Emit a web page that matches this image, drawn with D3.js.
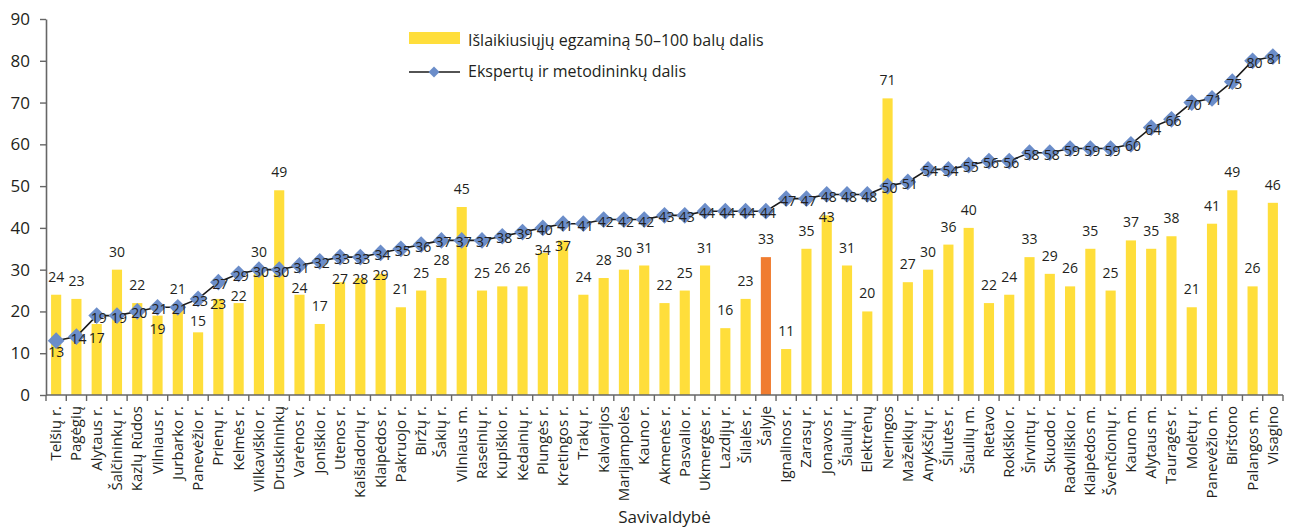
<!DOCTYPE html>
<html lang="lt">
<head>
<meta charset="utf-8">
<script src="https://cdn.jsdelivr.net/npm/d3@7/dist/d3.min.js"></script>
<style>
  html, body { margin: 0; padding: 0; background: #fff; }
  svg { display: block; font-family: "Open Sans", "Noto Sans", sans-serif; }
</style>
</head>
<body>
<svg id="chart" width="1296" height="531"></svg>
<script>
// Savivaldybės, surikiuotos pagal ekspertų ir metodininkų dalį
const categories = [
  "Telšių r.", "Pagėgių", "Alytaus r.", "Šalčininkų r.", "Kazlų Rūdos", "Vilniaus r.",
  "Jurbarko r.", "Panevėžio r.", "Prienų r.", "Kelmės r.", "Vilkaviškio r.", "Druskininkų",
  "Varėnos r.", "Joniškio r.", "Utenos r.", "Kaišiadorių r.", "Klaipėdos r.", "Pakruojo r.",
  "Biržų r.", "Šakių r.", "Vilniaus m.", "Raseinių r.", "Kupiškio r.", "Kėdainių r.",
  "Plungės r.", "Kretingos r.", "Trakų r.", "Kalvarijos", "Marijampolės", "Kauno r.",
  "Akmenės r.", "Pasvalio r.", "Ukmergės r.", "Lazdijų r.", "Šilalės r.", "Šalyje",
  "Ignalinos r.", "Zarasų r.", "Jonavos r.", "Šiaulių r.", "Elektrėnų", "Neringos",
  "Mažeikių r.", "Anykščių r.", "Šilutės r.", "Šiaulių m.", "Rietavo", "Rokiškio r.",
  "Širvintų r.", "Skuodo r.", "Radviliškio r.", "Klaipėdos m.", "Švenčionių r.", "Kauno m.",
  "Alytaus m.", "Tauragės r.", "Molėtų r.", "Panevėžio m.", "Birštono", "Palangos m.",
  "Visagino"
];

// Išlaikiusiųjų egzaminą 50–100 balų dalis, %
const passShare = [
  24, 23, 17, 30, 22, 19, 21, 15, 23, 22, 30, 49,
  24, 17, 27, 28, 29, 21, 25, 28, 45, 25, 26, 26,
  34, 37, 24, 28, 30, 31, 22, 25, 31, 16, 23, 33,
  11, 35, 43, 31, 20, 71, 27, 30, 36, 40, 22, 24,
  33, 29, 26, 35, 25, 37, 35, 38, 21, 41, 49, 26,
  46
];

// Ekspertų ir metodininkų dalis, %
const expertShare = [
  13, 14, 19, 19, 20, 21, 21, 23, 27, 29, 30, 30,
  31, 32, 33, 33, 34, 35, 36, 37, 37, 37, 38, 39,
  40, 41, 41, 42, 42, 42, 43, 43, 44, 44, 44, 44,
  47, 47, 48, 48, 48, 50, 51, 54, 54, 55, 56, 56,
  58, 58, 59, 59, 59, 60, 64, 66, 70, 71, 75, 80,
  81
];

const yTicks = [0, 10, 20, 30, 40, 50, 60, 70, 80, 90];
const nationalLabel = "Šalyje";
const legendLabels = ["Išlaikiusiųjų egzaminą 50–100 balų dalis", "Ekspertų ir metodininkų dalis"];
const xTitle = "Savivaldybė";

const COLORS = {
  bar: "#FFDE3B",
  national: "#F07C30",
  marker: "#6B8DC9",
  line: "#1a1a1a",
  axis: "#666666",
  text: "#231F20"
};

const svg = d3.select("#chart");
const plotLeft = 46, plotRight = 1283, plotTop = 19, plotBottom = 395;

const x = d3.scaleBand()
  .domain(categories)
  .range([plotLeft, plotRight])
  .paddingInner(0.5)
  .paddingOuter(0.25);

const y = d3.scaleLinear().domain([0, 90]).range([plotBottom, plotTop]);

const rows = categories.map((c, i) => ({ c, bar: passShare[i], exp: expertShare[i] }));
const cx = d => x(d.c) + x.bandwidth() / 2;

// Stulpeliai
svg.append("g").selectAll("rect")
  .data(rows)
  .join("rect")
  .attr("x", d => x(d.c))
  .attr("width", x.bandwidth())
  .attr("y", d => y(d.bar))
  .attr("height", d => y(0) - y(d.bar))
  .attr("fill", d => d.c === nationalLabel ? COLORS.national : COLORS.bar);

// Y ašis
const yAxis = svg.append("g")
  .attr("transform", `translate(${plotLeft},0)`)
  .call(d3.axisLeft(y).tickValues(yTicks).tickSize(6).tickPadding(10).tickSizeOuter(0));
yAxis.select(".domain").attr("stroke", COLORS.axis).attr("stroke-width", 1.6);
yAxis.selectAll(".tick line").attr("stroke", COLORS.axis).attr("stroke-width", 1.4);
yAxis.selectAll(".tick text")
  .attr("fill", COLORS.text)
  .style("font-size", "17px")
  .style("font-family", "'Open Sans', sans-serif");

// X ašis su padalomis tarp kategorijų
const xAxisG = svg.append("g").attr("transform", `translate(0,${plotBottom})`);
xAxisG.append("line")
  .attr("x1", plotLeft).attr("x2", plotRight)
  .attr("stroke", COLORS.axis).attr("stroke-width", 1.6);
const boundaries = d3.range(categories.length + 1).map(i => plotLeft + i * x.step());
xAxisG.selectAll("line.tick")
  .data(boundaries)
  .join("line")
  .attr("class", "tick")
  .attr("x1", d => d).attr("x2", d => d)
  .attr("y1", 0).attr("y2", 6)
  .attr("stroke", COLORS.axis).attr("stroke-width", 1.4);

xAxisG.selectAll("text.cat")
  .data(categories)
  .join("text")
  .attr("class", "cat")
  .attr("transform", d => `translate(${x(d) + x.bandwidth() / 2 + 5},11) rotate(-90)`)
  .attr("text-anchor", "end")
  .attr("fill", COLORS.text)
  .style("font-size", "15px")
  .text(d => d);

// Linija su rombais
const lineGen = d3.line()
  .x(cx)
  .y(d => y(d.exp));

svg.append("path")
  .datum(rows)
  .attr("d", lineGen)
  .attr("fill", "none")
  .attr("stroke", COLORS.line)
  .attr("stroke-width", 1.6);

const diamond = d3.symbol().type(d3.symbolSquare).size(140);
svg.append("g").selectAll("path")
  .data(rows)
  .join("path")
  .attr("d", diamond)
  .attr("transform", d => `translate(${cx(d)},${y(d.exp)}) rotate(45)`)
  .attr("fill", COLORS.marker);

// Stulpelių reikšmės: virš stulpelio, o susidūrus su linijos žyme – žemiau jos
svg.append("g").selectAll("text")
  .data(rows)
  .join("text")
  .attr("x", cx)
  .attr("y", d => {
    let cy = y(d.bar) - 18;
    const ly = y(d.exp);
    if (Math.abs(cy - ly) < 16) cy = ly + 22;
    return cy;
  })
  .attr("dy", "0.36em")
  .attr("text-anchor", "middle")
  .attr("fill", COLORS.text)
  .style("font-size", "14px")
  .text(d => d.bar);

// Linijos reikšmės ant rombų
svg.append("g").selectAll("text")
  .data(rows)
  .join("text")
  .attr("x", (d, i) => cx(d) + (i === 0 ? 0 : 2))
  .attr("y", (d, i) => y(d.exp) + (i === 0 ? 11 : 2))
  .attr("dy", "0.36em")
  .attr("text-anchor", "middle")
  .attr("fill", COLORS.text)
  .style("font-size", "14px")
  .text(d => d.exp);

// Ašies pavadinimas
svg.append("text")
  .attr("x", (plotLeft + plotRight) / 2)
  .attr("y", 523)
  .attr("text-anchor", "middle")
  .attr("fill", COLORS.text)
  .style("font-size", "17px")
  .text(xTitle);

// Legenda
const legend = svg.append("g");
legend.append("rect")
  .attr("x", 409).attr("y", 32).attr("width", 51).attr("height", 12)
  .attr("fill", COLORS.bar);
legend.append("text")
  .attr("x", 468).attr("y", 46)
  .attr("fill", COLORS.text)
  .style("font-size", "16px")
  .text(legendLabels[0]);
legend.append("line")
  .attr("x1", 409).attr("x2", 460).attr("y1", 72).attr("y2", 72)
  .attr("stroke", COLORS.line).attr("stroke-width", 1.4);
legend.append("path")
  .attr("d", d3.symbol().type(d3.symbolSquare).size(60))
  .attr("transform", "translate(434,72) rotate(45)")
  .attr("fill", COLORS.marker);
legend.append("text")
  .attr("x", 468).attr("y", 77)
  .attr("fill", COLORS.text)
  .style("font-size", "16px")
  .text(legendLabels[1]);
</script>
</body>
</html>
